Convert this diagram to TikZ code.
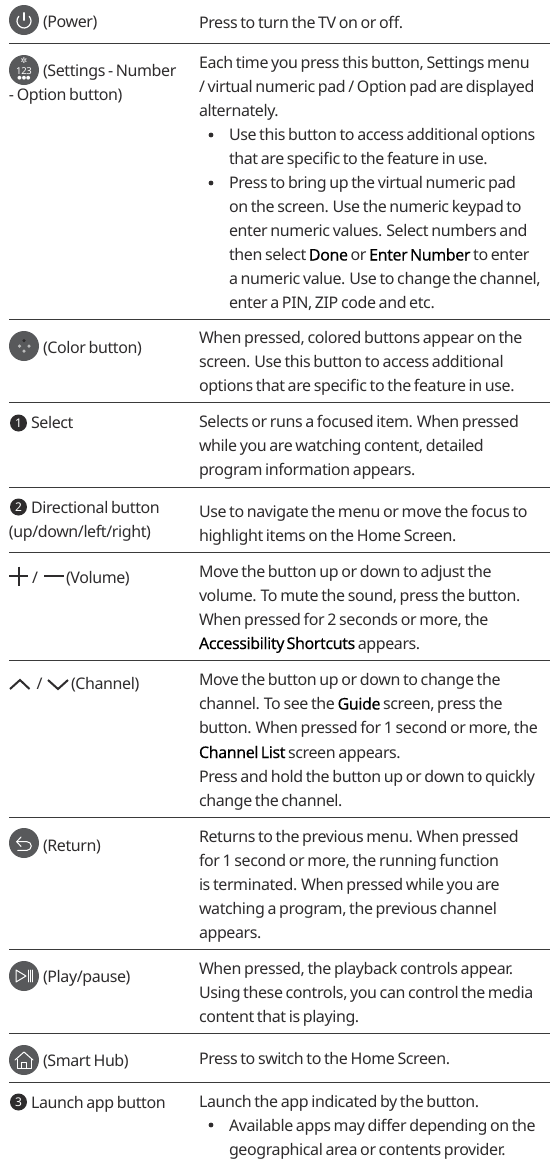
\documentclass[tikz,border=0pt]{standalone}
\usetikzlibrary{calc}
\usepackage{fontspec}
\setmainfont{Noto Sans}[LetterSpace=-2.5,WordSpace=0.7]
\newfontfamily\medfont{Noto Sans}[LetterSpace=-2.5,WordSpace=0.6,FakeBold=0.12]
\newfontfamily\symfont{DejaVu Sans}
\newcommand{\emw}[1]{{\medfont\color{black}#1}}
\definecolor{ink}{HTML}{2E2C2D}
\definecolor{btn}{HTML}{58595B}
\definecolor{rulecol}{HTML}{3A3A3A}
\tikzset{
  txt/.style={anchor=base west,inner sep=0pt,outer sep=0pt,text=ink,font=\fontsize{16}{18}\selectfont},
  rowline/.style={draw=rulecol,line width=1pt},
  btnbg/.style={circle,fill=btn,draw=none,minimum size=30pt,inner sep=0pt},
  glyph/.style={draw=white,line width=1pt,line cap=round,line join=round,fill=none},
  numb/.style={circle,fill=ink,text=white,minimum size=17pt,inner sep=0pt,font=\fontsize{12}{12}\bfseries\selectfont},
  bul/.style={circle,fill=ink,minimum size=4.8pt,inner sep=0pt},
  symline/.style={draw=ink,line width=2pt}
}
\newcommand{\rowrule}[2]{\coordinate (#1a) at (9,#2);\coordinate (#1b) at (550,#2);\draw[rowline] (#1a)--(#1b);}
\newcommand{\tl}[4]{\node[txt] (#1) at (#2,#3) {#4};}
\begin{document}
\begin{tikzpicture}[x=1pt,y=-1pt]
\useasboundingbox (0,0) rectangle (550,1163);
\rowrule{r1}{43}\rowrule{r2}{319}\rowrule{r3}{402.5}\rowrule{r4}{487.5}\rowrule{r5}{552.5}\rowrule{r6}{660.5}\rowrule{r7}{817}\rowrule{r8}{949}\rowrule{r9}{1033}\rowrule{r10}{1082.5}
% power
\node[btnbg] (bPower) at (24,20) {};
\draw[glyph,line width=1.2pt] (bPower.center) ++(-5.2,-3.7) arc[start angle=222,end angle=-42,radius=7];
\draw[glyph,line width=1.2pt] (bPower.center) ++(0,-7.3) -- ++(0,7.5);
\tl{a1}{43}{27.5}{(Power)}
\tl{b1}{199}{28}{Press to turn the TV on or off.}
% settings
\node[btnbg] (bSet) at (24,70) {};
\node[text=white,inner sep=0pt,font=\fontsize{9.5}{9}\selectfont] (bSetN) at (24,71) {123};
\node[text=white,inner sep=0pt,font=\fontsize{8}{7}\symfont] (bSetG) at (24,61) {✲};
\node[text=white,inner sep=0pt,font=\fontsize{5}{5}\symfont] (bSetD) at (24,78) {●●●};
\tl{a2a}{43}{76.5}{(Settings - Number}
\tl{a2b}{9}{100.5}{- Option button)}
\tl{b2a}{199}{68}{Each time you press this button, Settings menu}
\tl{b2b}{199}{92}{/ virtual numeric pad / Option pad are displayed}
\tl{b2c}{199}{116}{alternately.}
\node[bul] (u1) at (211,135) {};
\tl{b2d}{229}{140}{Use this button to access additional options}
\tl{b2e}{229}{164}{that are specific to the feature in use.}
\node[bul] (u2) at (211,183) {};
\tl{b2f}{229}{188}{Press to bring up the virtual numeric pad}
\tl{b2g}{229}{212}{on the screen. Use the numeric keypad to}
\tl{b2h}{229}{236.5}{enter numeric values. Select numbers and}
\tl{b2i}{229}{260.5}{then select \emw{Done} or \emw{Enter Number} to enter}
\tl{b2j}{229}{284.5}{a numeric value. Use to change the channel,}
\tl{b2k}{229}{308}{enter a PIN, ZIP code and etc.}
% color
\node[btnbg] (bCol) at (24,346) {};
\node[circle,fill=white!60!btn,minimum size=3.5pt,inner sep=0pt] (c1) at (19.5,346) {};
\node[circle,fill=white!60!btn,minimum size=3.5pt,inner sep=0pt] (c2) at (29,346) {};
\node[circle,fill=white!60!btn,minimum size=3.5pt,inner sep=0pt] (c3) at (24,351) {};
\node[circle,fill=ink,minimum size=3.5pt,inner sep=0pt] (c4) at (24,340.5) {};
\tl{a3}{43}{353}{(Color button)}
\tl{b3a}{199}{343}{When pressed, colored buttons appear on the}
\tl{b3b}{199}{367}{screen. Use this button to access additional}
\tl{b3c}{199}{391}{options that are specific to the feature in use.}
% select
\node[numb] (n1) at (18.5,423) {1};
\tl{a4}{31}{428.5}{Select}
\tl{b4a}{199}{427}{Selects or runs a focused item. When pressed}
\tl{b4b}{199}{451}{while you are watching content, detailed}
\tl{b4c}{199}{475}{program information appears.}
% directional
\node[numb] (n2) at (18.5,507) {2};
\tl{a5a}{31}{513}{Directional button}
\tl{a5b}{9}{537}{(up/down/left/right)}
\tl{b5a}{199}{517}{Use to navigate the menu or move the focus to}
\tl{b5b}{199}{541}{highlight items on the Home Screen.}
% volume
\coordinate (vp) at (18.5,576);
\draw[symline] ($(vp)+(-9.5,0)$) -- ($(vp)+(9.5,0)$);
\draw[symline] ($(vp)+(0,-9.5)$) -- ($(vp)+(0,9.5)$);
\draw[symline] (44,576) -- (64,576);
\tl{a6s}{32}{583}{/}
\tl{a6}{66}{583}{(Volume)}
\tl{b6a}{199}{577}{Move the button up or down to adjust the}
\tl{b6b}{199}{601}{volume. To mute the sound, press the button.}
\tl{b6c}{199}{625}{When pressed for 2 seconds or more, the}
\tl{b6d}{199}{649}{\emw{Accessibility Shortcuts} appears.}
% channel
\draw[symline] (10,689) -- (20,680) -- (29.5,689);
\draw[symline] (48,680) -- (58,689) -- (68,680);
\tl{a7s}{36.5}{689}{/}
\tl{a7}{71}{689}{(Channel)}
\tl{b7a}{199}{685}{Move the button up or down to change the}
\tl{b7b}{199}{709.5}{channel. To see the \emw{Guide} screen, press the}
\tl{b7c}{199}{733.5}{button. When pressed for 1 second or more, the}
\tl{b7d}{199}{758}{\emw{Channel List} screen appears.}
\tl{b7e}{199}{782}{Press and hold the button up or down to quickly}
\tl{b7f}{199}{806}{change the channel.}
% return
\node[btnbg] (bRet) at (24,843) {};
\draw[glyph] (bRet.center) ++(-7.3,-1.3) -- ++(10.3,0) arc[start angle=-90,end angle=90,radius=4.3] -- ++(-9.3,0);
\draw[glyph] (bRet.center) ++(-3,-6) -- ++(-4.3,4.7) -- ++(4.3,4.7);
\tl{a8}{43}{851}{(Return)}
\tl{b8a}{199}{842.5}{Returns to the previous menu. When pressed}
\tl{b8b}{199}{866.5}{for 1 second or more, the running function}
\tl{b8c}{199}{890.5}{is terminated. When pressed while you are}
\tl{b8d}{199}{914.5}{watching a program, the previous channel}
\tl{b8e}{199}{938.5}{appears.}
% play
\node[btnbg] (bPlay) at (24,976) {};
\draw[glyph] (bPlay.center) ++(-8,-6) -- ++(0,12) -- ++(10,-6) -- cycle;
\draw[glyph,line width=.7pt] (bPlay.center) ++(4,-6) -- ++(0,12) ++(2.2,0) -- ++(0,-12) ++(2.2,0) -- ++(0,12);
\tl{a9}{43}{982}{(Play/pause)}
\tl{b9a}{199}{974.5}{When pressed, the playback controls appear.}
\tl{b9b}{199}{998.5}{Using these controls, you can control the media}
\tl{b9c}{199}{1022}{content that is playing.}
% home
\node[btnbg] (bHome) at (24,1060) {};
\draw[glyph] (bHome.center) ++(-9,0) -- ++(9,-8) -- ++(9,8);
\draw[glyph] (bHome.center) ++(-7,-1) -- ++(0,9) -- ++(14,0) -- ++(0,-9);
\draw[glyph] (bHome.center) ++(-2.5,8) -- ++(0,-6) -- ++(5,0) -- ++(0,6);
\tl{a10}{43}{1066}{(Smart Hub)}
\tl{b10}{199}{1064}{Press to switch to the Home Screen.}
% launch
\node[numb] (n3) at (18.5,1102) {3};
\tl{a11}{31}{1108}{Launch app button}
\tl{b11a}{199}{1107}{Launch the app indicated by the button.}
\node[bul] (u3) at (211,1125) {};
\tl{b11b}{229}{1131.5}{Available apps may differ depending on the}
\tl{b11c}{229}{1155.5}{geographical area or contents provider.}
\end{tikzpicture}
\end{document}
